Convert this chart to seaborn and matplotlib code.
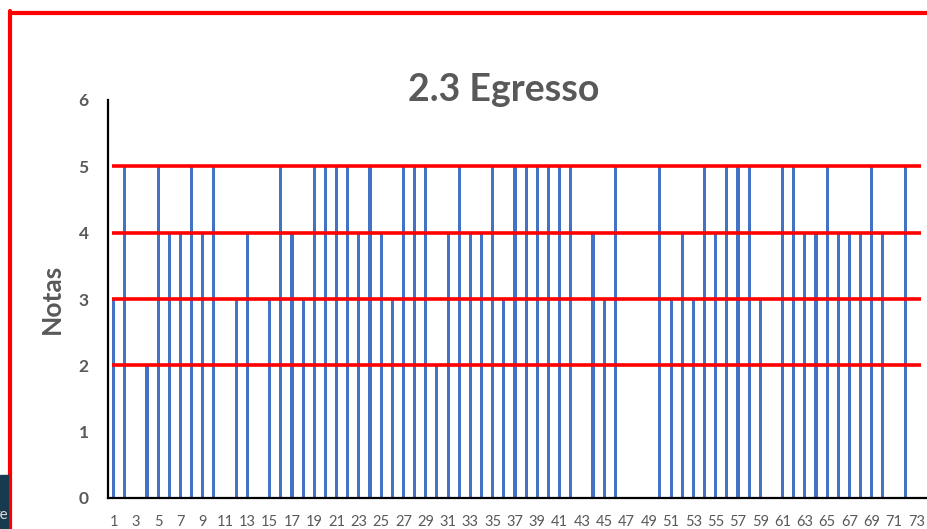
import numpy as np
import pandas as pd
import matplotlib
matplotlib.use("Agg")
import matplotlib.pyplot as plt
import seaborn as sns
from matplotlib.lines import Line2D
from matplotlib.patches import Rectangle

# ===================== 2.3 Egresso - notas por aluno =====================
alunos = list(range(1, 74))
notas = [3, 5, 0, 2, 5, 4, 4, 5, 4, 5,
         0, 3, 4, 0, 3, 5, 4, 3, 5, 5,
         5, 5, 4, 5, 4, 3, 5, 5, 5, 2,
         4, 5, 4, 4, 5, 3, 5, 5, 5, 5,
         5, 5, 0, 4, 3, 5, 0, 0, 0, 5,
         3, 4, 3, 5, 4, 5, 5, 5, 3, 0,
         5, 5, 4, 4, 5, 4, 4, 4, 5, 4,
         0, 5, 0]
linhas_ref = [2, 3, 4, 5]
yticks = [0, 1, 2, 3, 4, 5, 6]

df = pd.DataFrame({'Aluno': alunos, 'Nota': notas})

sns.set_style('white')
plt.rcParams['font.family'] = ['Lato', 'DejaVu Sans']

W, H = 928, 529
fig = plt.figure(figsize=(W / 100, H / 100), dpi=100)
ax = fig.add_axes([108 / W, (H - 498) / H, (W - 108) / W, (498 - 100) / H])

sns.barplot(data=df, x='Aluno', y='Nota', color='#4472C4', width=0.28,
            saturation=1, linewidth=0, ax=ax)

# red reference lines drawn over the bars
ax.hlines(linhas_ref, -0.15, 72.4, colors='#FF0000', linewidth=2.6, zorder=5)

ax.set_xlim(-0.5, -0.5 + (W - 108) / 11.15)
ax.set_ylim(0, 6)
ax.set_yticks(yticks)
ax.set_yticklabels([str(v) for v in yticks], fontsize=12.5,
                   fontweight='bold', color='#595959')
ax.set_xticks(range(0, 73, 2))
ax.set_xticklabels([str(a) for a in alunos[::2]], fontsize=10.5, color='#595959')
ax.tick_params(axis='x', length=0, pad=12)
ax.tick_params(axis='y', length=0, pad=14)

ax.set_xlabel('')
ax.set_ylabel('Notas', fontsize=19, fontweight='bold', color='#595959')
ax.yaxis.set_label_coords(-(108 - 64) / (W - 108), 0.5)

for s in ['top', 'right']:
    ax.spines[s].set_visible(False)
for s in ['left', 'bottom']:
    ax.spines[s].set_color('black')
    ax.spines[s].set_linewidth(1.6)

fig.text(504 / W, 1 - 90 / H, '2.3 Egresso', fontsize=27, fontweight='bold',
         color='#595959', ha='center', va='center')

# red frame of the slide
fig.add_artist(Line2D([10 / W, 1.0], [1 - 12.5 / H, 1 - 12.5 / H],
                      transform=fig.transFigure, color='#FF0000', lw=3))
fig.add_artist(Line2D([10 / W, 10 / W], [0, 1 - 12.5 / H + 1.5 / H],
                      transform=fig.transFigure, color='#FF0000', lw=3))
# dark box at the bottom-left corner
fig.add_artist(Rectangle((0, 0), 8 / W, (H - 475) / H, transform=fig.transFigure,
                         color='#173A4E', zorder=3))
fig.text(8.5 / W, 1 - 515 / H, 're', fontsize=11, color='#DDDDDD',
         ha='right', va='center', zorder=4)

fig.savefig('out.png', dpi=100)
